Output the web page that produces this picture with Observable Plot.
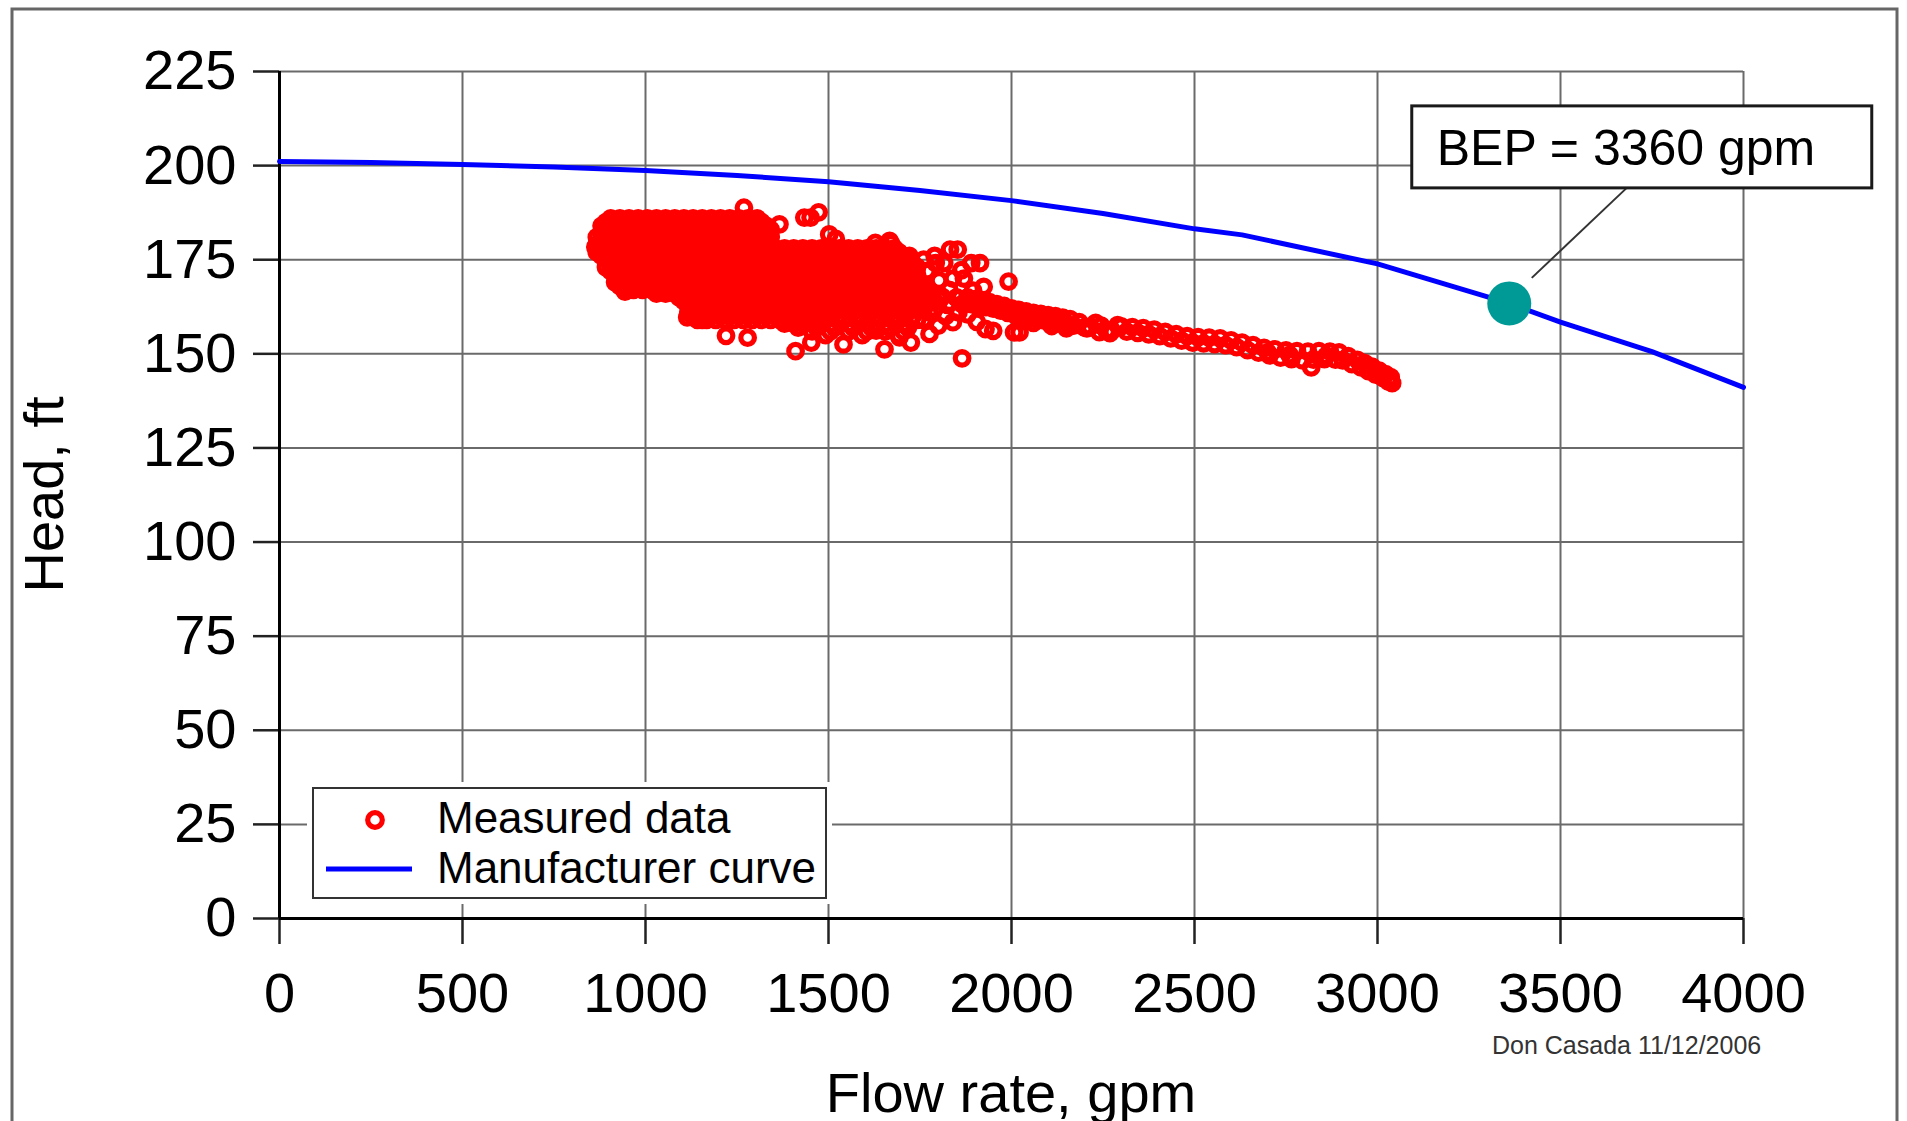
<!DOCTYPE html>
<html>
<head>
<meta charset="utf-8">
<script src="https://cdn.jsdelivr.net/npm/d3@7"></script>
<script src="https://cdn.jsdelivr.net/npm/@observablehq/plot@0.6"></script>
<style>
  html, body { margin: 0; padding: 0; background: #fff; }
  #chart svg { display: block; }
</style>
</head>
<body>
<div id="chart"></div>
<script>
// ---------- data ----------
const xTicks = [0, 500, 1000, 1500, 2000, 2500, 3000, 3500, 4000];
const yTicks = [0, 25, 50, 75, 100, 125, 150, 175, 200, 225];

// Manufacturer curve
const mfrFlow = [0, 250, 500, 750, 1000, 1250, 1500, 1750, 2000, 2250, 2500, 2630, 3000, 3360, 3500, 3750, 4000];
const mfrHead = [201.1, 200.8, 200.3, 199.6, 198.7, 197.4, 195.7, 193.4, 190.7, 187.3, 183.2, 181.6, 173.9, 163.4, 158.4, 150.6, 141.1];

// Best efficiency point
const bepFlow = 3360;
const bepHead = 163.4;
const bepText = "BEP = 3360 gpm";

// Measured data, dense cloud: head level of each row and the flows read along it
const cloudHeads = [186, 185, 184, 183, 182, 181, 180, 179, 178, 177, 176, 175, 174, 173, 172, 171, 170, 169, 168, 167, 166, 165, 164, 163, 162, 161, 160, 159, 158, 157, 156, 155];
const cloudFlows = [
  [905,930,955,980,1005,1030,1055,1080,1105,1130,1155,1180,1205,1230,1255,1280,1305],
  [892,917,942,967,992,1017,1042,1067,1092,1117,1142,1167,1192,1217,1242,1267,1292,1317],
  [880,905,930,955,980,1005,1030,1055,1080,1105,1130,1155,1180,1205,1230,1255,1280,1305,1330],
  [892,917,942,967,992,1017,1042,1067,1092,1117,1142,1167,1192,1217,1242,1267,1292,1317,1342],
  [880,905,930,955,980,1005,1030,1055,1080,1105,1130,1155,1180,1205,1230,1255,1280,1305,1330],
  [867,892,917,942,967,992,1017,1042,1067,1092,1117,1142,1167,1192,1217,1242,1267,1292,1317,1342],
  [880,905,930,955,980,1005,1030,1055,1080,1105,1130,1155,1180,1205,1230,1255,1280,1305,1330],
  [867,892,917,942,967,992,1017,1042,1067,1092,1117,1142,1167,1192,1217,1242,1267,1292,1317,1342],
  [880,905,930,955,980,1005,1030,1055,1080,1105,1130,1155,1180,1205,1230,1255,1280,1305,1330,1355,1380,1405,1430,1455,1480,1505,1530,1555,1580,1605,1630,1655,1680],
  [867,892,917,942,967,992,1017,1042,1067,1092,1117,1142,1167,1192,1217,1242,1267,1292,1317,1342,1367,1392,1417,1442,1467,1492,1517,1542,1567,1592,1617,1642,1667,1692],
  [880,905,930,955,980,1005,1030,1055,1080,1105,1130,1155,1180,1205,1230,1255,1280,1305,1330,1355,1380,1405,1430,1455,1480,1505,1530,1555,1580,1605,1630,1655,1680,1705],
  [892,917,942,967,992,1017,1042,1067,1092,1117,1142,1167,1192,1217,1242,1267,1292,1317,1342,1367,1392,1417,1442,1467,1492,1517,1542,1567,1592,1617,1642,1667,1692,1717],
  [905,930,955,980,1005,1030,1055,1080,1105,1130,1155,1180,1205,1230,1255,1280,1305,1330,1355,1380,1405,1430,1455,1480,1505,1530,1555,1580,1605,1630,1655,1680,1705,1730],
  [892,917,942,967,992,1017,1042,1067,1092,1117,1142,1167,1192,1217,1242,1267,1292,1317,1342,1367,1392,1417,1442,1467,1492,1517,1542,1567,1592,1617,1642,1667,1692,1717,1742],
  [905,930,955,980,1005,1030,1055,1080,1105,1130,1155,1180,1205,1230,1255,1280,1305,1330,1355,1380,1405,1430,1455,1480,1505,1530,1555,1580,1605,1630,1655,1680,1705,1730],
  [917,942,967,992,1017,1042,1067,1092,1117,1142,1167,1192,1217,1242,1267,1292,1317,1342,1367,1392,1417,1442,1467,1492,1517,1542,1567,1592,1617,1642,1667,1692,1717,1742],
  [930,955,980,1005,1030,1055,1080,1105,1130,1155,1180,1205,1230,1255,1280,1305,1330,1355,1380,1405,1430,1455,1480,1505,1530,1555,1580,1605,1630,1655,1680,1705,1730],
  [917,942,967,992,1017,1042,1067,1092,1117,1142,1167,1192,1217,1242,1267,1292,1317,1342,1367,1392,1417,1442,1467,1492,1517,1542,1567,1592,1617,1642,1667,1692,1717,1742],
  [930,955,980,1005,1030,1055,1080,1105,1130,1155,1180,1205,1230,1255,1280,1305,1330,1355,1380,1405,1430,1455,1480,1505,1530,1555,1580,1605,1630,1655,1680,1705,1730,1755],
  [942,967,992,1017,1042,1067,1092,1117,1142,1167,1192,1217,1242,1267,1292,1317,1342,1367,1392,1417,1442,1467,1492,1517,1542,1567,1592,1617,1642,1667,1692,1717,1742,1767],
  [1030,1055,1080,1105,1130,1155,1180,1205,1230,1255,1280,1305,1330,1355,1380,1405,1430,1455,1480,1505,1530,1555,1580,1605,1630,1655,1680,1705,1730,1755],
  [1092,1117,1142,1167,1192,1217,1242,1267,1292,1317,1342,1367,1392,1417,1442,1467,1492,1517,1542,1567,1592,1617,1642,1667,1692,1717,1742,1767],
  [1105,1130,1155,1180,1205,1230,1255,1280,1305,1330,1355,1380,1405,1430,1455,1480,1505,1530,1555,1580,1605,1630,1655,1680,1705,1730,1755],
  [1117,1142,1167,1192,1217,1242,1267,1292,1317,1342,1367,1392,1417,1442,1467,1517,1567,1617,1667,1717,1767],
  [1130,1155,1180,1205,1230,1255,1280,1305,1330,1355,1380,1405,1430,1455,1480,1530,1580,1630,1680,1730],
  [1117,1142,1167,1192,1217,1242,1267,1292,1317,1342,1367,1392,1417,1442,1467,1517,1567,1617,1667,1717],
  [1130,1155,1180,1205,1230,1255,1280,1305,1330,1355,1380,1405,1430,1455,1480,1530,1580,1630,1680,1730],
  [1142,1167,1192,1217,1242,1267,1292,1317,1342,1367,1392,1417,1442,1467,1492,1542,1592,1642,1692,1742],
  [1380,1405,1430,1455,1480,1505,1555,1605,1655,1705],
  [1417,1467,1517,1567,1617,1667,1717],
  [1455,1505,1555,1605,1655,1705],
  [1492,1592,1692]
];

// Measured data, narrow tail of the cloud at higher flows [flow, head]
const bandPoints = [
  [1770,165.5],[1790,163.8],[1810,165.2],[1830,163.6],[1850,164.8],[1865,163.2],
  [1880,165.0],[1890,163.2],[1900,164.5],[1910,162.8],[1920,164.1],[1930,162.4],[1940,163.7],[1950,162.0],
  [1960,163.2],[1970,161.5],[1980,162.7],[1990,160.9],[2000,162.1],[2010,160.3],[2020,161.7],[2030,159.9],
  [2040,161.3],[2050,159.5],[2060,160.9],[2070,159.1],[2080,160.6],[2090,158.8],[2100,160.3],[2110,158.5],
  [2120,160.0],[2130,158.2],[2140,159.6],[2150,157.9],[2160,159.2],[2170,157.5],[2185,158.4],[2200,157.0],
  [2214,157.2],[2230,158.2],[2245,157.5],[2260,156.0],[2274,156.2],[2290,157.6],[2300,157.3],[2315,155.9],
  [2330,157.1],[2345,155.6],[2360,156.8],[2375,155.2],[2390,156.4],[2405,154.7],[2420,155.8],[2435,154.1],
  [2450,155.2],[2465,153.5],[2480,154.7],[2495,153.0],[2510,154.4],[2525,152.8],[2540,154.3],[2555,152.6],
  [2570,154.1],[2585,152.3],[2600,153.6],[2615,151.8],[2630,153.0],[2645,151.0],[2660,152.3],[2675,150.3],
  [2690,151.6],[2700,150.4],[2705,149.6],[2720,151.2],[2735,149.0],[2750,150.9],[2760,149.7],[2765,148.6],
  [2780,150.7],[2795,148.3],[2810,150.6],[2819,146.4],[2825,148.5],[2840,150.7],[2855,148.6],[2860,149.5],
  [2870,150.6],[2885,148.5],[2895,150.4],[2905,148.3],[2920,149.4],[2930,147.3],[2945,148.4],[2955,146.4],
  [2965,147.5],[2975,145.4],[2985,146.6],[2995,144.5],[3005,145.5],[3015,143.6],[3022,144.6],[3030,142.6],
  [3036,143.8],[3040,142.2]
];

// Measured data, scattered points around the cloud [flow, head]
const scatterPoints = [
  [863,178.4],[944,166.5],[1114,159.7],[1155,159.0],[1220,154.8],[1279,154.3],[1269,188.8],[1366,184.4],
  [1410,150.7],[1453,153.0],[1434,186.2],[1451,186.2],[1473,187.6],[1502,181.7],[1520,180.5],[1599,177.7],
  [1628,179.5],[1667,180.0],[1671,179.3],[1721,176.0],[1793,174.1],[1816,174.1],[1832,177.7],[1853,177.7],
  [1863,172.2],[1890,174.1],[1914,174.1],[1802,169.5],[1840,170.0],[1895,166.8],[1924,167.8],[1992,169.2],
  [1840,158.4],[1929,156.6],[1950,156.1],[2007,155.7],[2022,155.7],[1865,148.8],[1776,155.3],[1725,153.0],
  [1653,151.2],[1541,152.5],[1630,156.2],[1694,154.4],[1790,162.0],[1820,160.0],[1760,159.0],[1880,160.5],
  [1905,158.5],[1770,172.0],[1785,166.0],[1805,164.5],[1830,167.0],[1850,165.0],[1870,170.0],[1880,163.5],
  [1760,168.0],[1775,161.0],[1800,157.5],[1825,163.0],[1855,161.0],[1790,176.0],[1760,175.0],
  [2060,158.2],[2110,157.4],[2150,156.8],[2206,156.8],[2240,155.8],[2269,155.5]
];

// Legend / texts
const legendLabels = ["Measured data", "Manufacturer curve"];
const xLabel = "Flow rate, gpm";
const yLabel = "Head, ft";
const credit = "Don Casada 11/12/2006";

// ---------- tables built from the arrays ----------
const mfr = mfrFlow.map((f, i) => ({flow: f, head: mfrHead[i]}));
const measured = [
  ...cloudHeads.flatMap((h, i) => cloudFlows[i].map(f => ({flow: f, head: h}))),
  ...bandPoints.map(([f, h]) => ({flow: f, head: h})),
  ...scatterPoints.map(([f, h]) => ({flow: f, head: h}))
];
const bep = [{flow: bepFlow, head: bepHead}];

const FONT = "'Liberation Sans', Arial, Helvetica, sans-serif";
const RING_R = 6.8, RING_W = 5.2;

const plot = Plot.plot({
  width: 1907,
  height: 1121,
  marginLeft: 279,
  marginRight: 164,
  marginTop: 71,
  marginBottom: 203,
  style: {fontFamily: FONT, background: "#fff", color: "#000", overflow: "visible"},
  x: {domain: [0, 4000]},
  y: {domain: [0, 225]},
  marks: [
    Plot.gridX(xTicks, {stroke: "#6a6a6a", strokeOpacity: 1, strokeWidth: 2}),
    Plot.gridY(yTicks, {stroke: "#6a6a6a", strokeOpacity: 1, strokeWidth: 2}),
    Plot.axisX(xTicks, {tickSize: 26, tickPadding: 28, fontSize: 56, tickFormat: "d", label: null, stroke: "#222", strokeWidth: 2.5, fill: "#000"}),
    Plot.axisY(yTicks, {tickSize: 26, tickPadding: 17, fontSize: 56, tickFormat: "d", label: null, stroke: "#222", strokeWidth: 2.5, fill: "#000"}),
    Plot.ruleX([0], {stroke: "#000", strokeWidth: 3}),
    Plot.ruleY([0], {stroke: "#000", strokeWidth: 3}),
    Plot.line(mfr, {x: "flow", y: "head", stroke: "#0000ff", strokeWidth: 5}),
    Plot.dot(measured, {x: "flow", y: "head", r: RING_R, stroke: "#ff0000", strokeWidth: RING_W, fill: "none"}),
    Plot.dot(bep, {x: "flow", y: "head", r: 22, fill: "#009a96"})
  ]
});

document.getElementById("chart").appendChild(plot);

// ---------- annotations positioned from the plot's scales ----------
const sx = plot.scale("x");
const sy = plot.scale("y");
const svg = d3.select(plot);
const x0 = sx.range[0], x1 = sx.range[1];
const yBottom = sy.range[0], yTop = sy.range[1];

function txt(parent, x, y, size, s, anchor = "start", fill = "#000") {
  return parent.append("text")
    .attr("x", x).attr("y", y)
    .attr("text-anchor", anchor)
    .attr("font-family", FONT).attr("font-size", size).attr("fill", fill)
    .text(s);
}

// axis titles
txt(svg, (x0 + x1) / 2, yBottom + 194, 56, xLabel, "middle");
txt(svg, 0, 0, 56, yLabel, "middle")
  .attr("transform", `translate(${x0 - 216},${(yBottom + yTop) / 2}) rotate(-90)`);

// credit
txt(svg, sx.apply(3500) - 68, yBottom + 136, 25, credit, "start", "#333");

// BEP callout
const bx = sx.apply(bepFlow), by = sy.apply(bepHead);
svg.append("line")
  .attr("x1", bx + 118).attr("y1", by - 115)
  .attr("x2", bx + 23).attr("y2", by - 25)
  .attr("stroke", "#333").attr("stroke-width", 2);
svg.append("rect")
  .attr("x", bx - 97).attr("y", by - 197).attr("width", 460).attr("height", 82)
  .attr("fill", "#fff").attr("stroke", "#1a1a1a").attr("stroke-width", 3);
txt(svg, bx - 72, by - 138, 50, bepText);

// legend
const lg = svg.append("g");
const lx = x0 + 34, ly = yBottom - 130;
lg.append("rect").attr("x", lx - 6).attr("y", ly - 6).attr("width", 525).attr("height", 122).attr("fill", "#fff");
lg.append("rect").attr("x", lx).attr("y", ly).attr("width", 513).attr("height", 110)
  .attr("fill", "#fff").attr("stroke", "#333").attr("stroke-width", 2);
lg.append("circle").attr("cx", lx + 62).attr("cy", ly + 32).attr("r", RING_R + 0.5)
  .attr("fill", "none").attr("stroke", "#ff0000").attr("stroke-width", RING_W);
lg.append("line").attr("x1", lx + 13).attr("x2", lx + 99).attr("y1", ly + 81).attr("y2", ly + 81)
  .attr("stroke", "#0000ff").attr("stroke-width", 5);
legendLabels.forEach((t, i) => txt(lg, lx + 124, ly + 45 + i * 50, 44, t));

// outer frame
svg.append("rect")
  .attr("x", 12).attr("y", 9).attr("width", 1885).attr("height", 1130)
  .attr("fill", "none").attr("stroke", "#666").attr("stroke-width", 3);
</script>
</body>
</html>
